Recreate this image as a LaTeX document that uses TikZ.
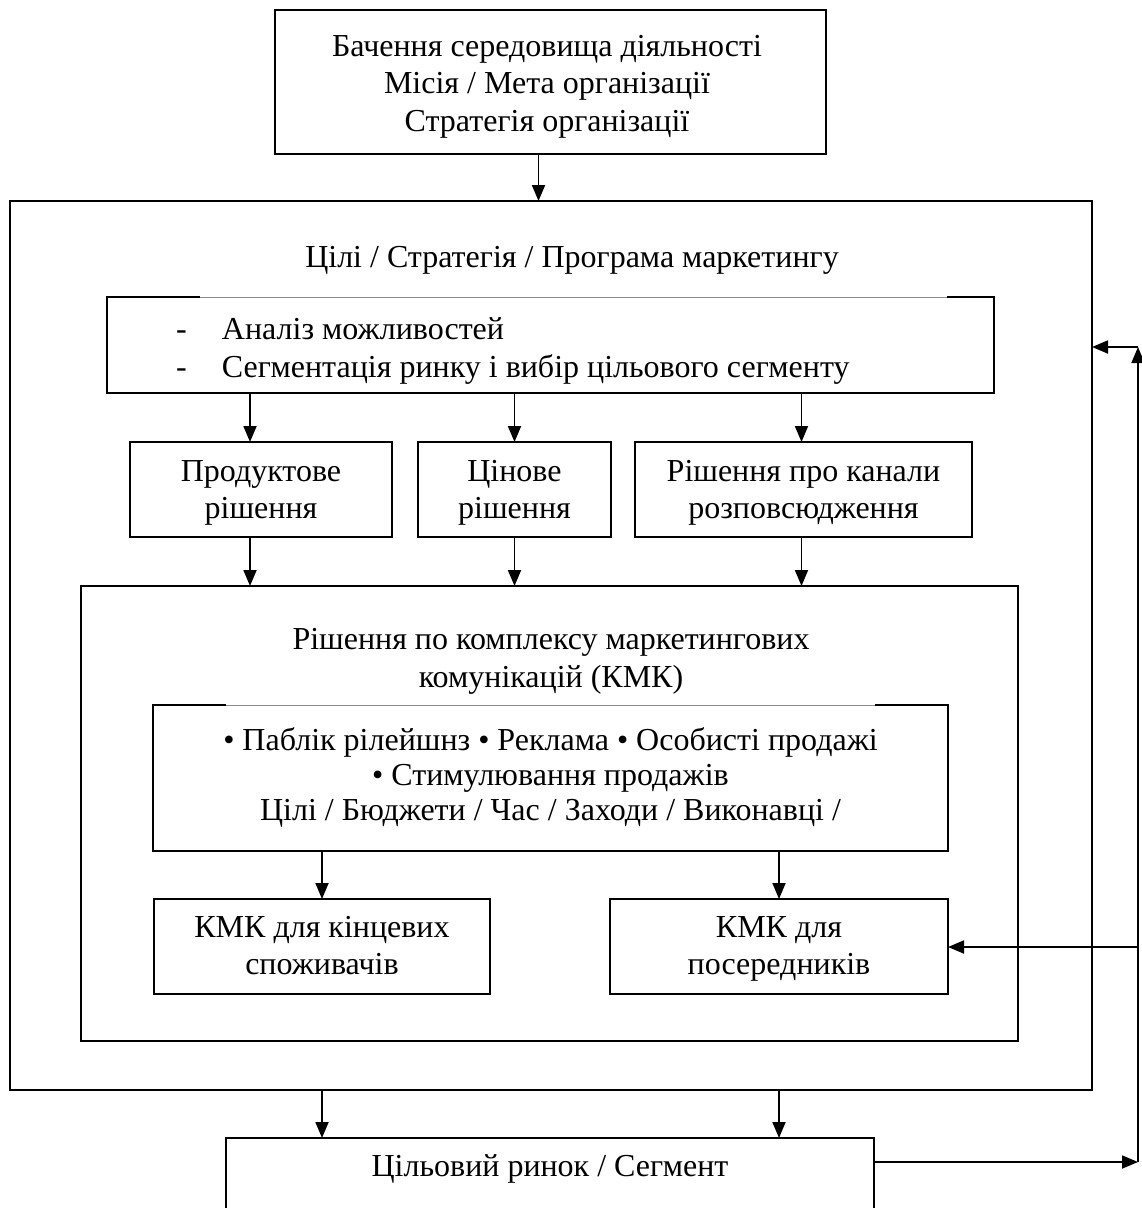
\documentclass[tikz,border=0pt]{standalone}
\usepackage{fontspec}
\setmainfont{Liberation Serif}
\usetikzlibrary{arrows.meta,calc}
\begin{document}
\begin{tikzpicture}[x=1pt,y=-1pt,
  every node/.style={inner sep=0pt, outer sep=0pt, font=\fontsize{32}{37.5}\selectfont},
  box/.style={draw, line width=1.8pt, align=center},
  open/.style={align=center},
  edge/.style={line width=1.8pt},
  conn/.style={line width=1.8pt, -{Triangle[length=16pt,width=13pt]}},
  thinline/.style={draw=black!45, line width=1pt}]
\useasboundingbox (0,0) rectangle (1142,1208);
\fill[white] (0,0) rectangle (1142,1208);

% top box
\node[box, minimum width=551pt, minimum height=144pt] (vision) at (550.5,82) {};
\node[open] (visiontxt) at (547,86)
  {\strut Бачення середовища діяльності\\\strut Місія / Мета організації\\\strut Стратегія організації};

% outer box
\node[box, minimum width=1082pt, minimum height=889pt] (outer) at (551,645.5) {};
\node (title) at (572,260) {Цілі / Стратегія / Програма маркетингу};

% analysis box
\node[minimum width=887pt, minimum height=96pt] (analiz) at (550.5,345) {};
\draw[edge] ($(analiz.north west)+(93,0)$) -- (analiz.north west) -- (analiz.south west)
  -- (analiz.south east) -- (analiz.north east) -- ++(-47,0);
\draw[thinline] ($(analiz.north west)+(93,0)$) -- ($(analiz.north east)+(-47,0)$);
\node[anchor=west, align=left] (analiztxt) at (176,351)
  {\strut\makebox[46pt][l]{-}Аналіз можливостей\\\strut\makebox[46pt][l]{-}Сегментація ринку і вибір цільового сегменту};

% decision boxes
\node[box, minimum width=262pt, minimum height=95pt] (prod) at (261,489.5) {};
\node[open] (prodtxt) at (prod.center) [yshift=-3pt] {\strut Продуктове\\\strut рішення};
\node[box, minimum width=193pt, minimum height=95pt] (price) at (514.5,489.5) {};
\node[open] (pricetxt) at (price.center) [yshift=-3pt] {\strut Цінове\\\strut рішення};
\node[box, minimum width=337pt, minimum height=95pt] (chan) at (803.5,489.5) {};
\node[open] (chantxt) at (chan.center) [yshift=-3pt] {\strut Рішення про канали\\\strut розповсюдження};

% KMK box
\node[box, minimum width=937pt, minimum height=455pt] (kmk) at (549.5,813.5) {};
\node[open] (kmktitle) at (551,661) {\strut Рішення по комплексу маркетингових\\\strut комунікацій (КМК)};

% tools box
\node[minimum width=795pt, minimum height=146pt] (tools) at (550.5,778) {};
\node[open, font=\fontsize{32}{35}\selectfont] (toolstxt) at (550.5,778)
  {\strut • Паблік рілейшнз • Реклама • Особисті продажі\\\strut • Стимулювання продажів\\\strut Цілі / Бюджети / Час / Заходи / Виконавці /};
\draw[edge] ($(tools.north west)+(73,0)$) -- (tools.north west) -- (tools.south west)
  -- (tools.south east) -- (tools.north east) -- ++(-73,0);
\draw[thinline] ($(tools.north west)+(73,0)$) -- ($(tools.north east)+(-73,0)$);

% KMK sub boxes
\node[box, minimum width=336pt, minimum height=95pt] (cons) at (322,946.5) {};
\node[open] (constxt) at (cons.center) [yshift=-2pt] {\strut КМК для кінцевих\\\strut споживачів};
\node[box, minimum width=338pt, minimum height=95pt] (inter) at (779,946.5) {};
\node[open] (intertxt) at (inter.center) [yshift=-2pt] {\strut КМК для\\\strut посередників};

% target market
\node[box, minimum width=648pt, minimum height=90pt, anchor=north] (target) at (550,1138) {};
\node (targettxt) at (550,1169) {Цільовий ринок / Сегмент};

% connectors
\draw[conn] ([xshift=-12pt]vision.south) -- ([xshift=-12pt]vision.south |- outer.north);
\draw[conn] ([xshift=-11pt]prod.north |- analiz.south) -- ([xshift=-11pt]prod.north);
\draw[conn] (price.north |- analiz.south) -- (price.north);
\draw[conn] ([xshift=-2pt]chan.north |- analiz.south) -- ([xshift=-2pt]chan.north);
\draw[conn] ([xshift=-11pt]prod.south) -- ([xshift=-11pt]prod.south |- kmk.north);
\draw[conn] (price.south) -- (price.south |- kmk.north);
\draw[conn] ([xshift=-2pt]chan.south) -- ([xshift=-2pt]chan.south |- kmk.north);
\draw[conn] (tools.south -| cons.north) -- (cons.north);
\draw[conn] (tools.south -| inter.north) -- (inter.north);
\draw[conn] (outer.south -| cons.north) -- (cons.north |- target.north);
\draw[conn] (outer.south -| inter.north) -- (inter.north |- target.north);

\coordinate (c1) at (1138,1162);
\coordinate (c2) at (1138,347);
\coordinate (c3) at (1138,947);
\draw[conn] (c1 -| target.east) -- (c1);
\draw[conn] (c1) -- (c2);
\draw[conn] (c2) -- (c2 -| outer.east);
\draw[conn] (c3) -- (c3 -| inter.east);
\end{tikzpicture}
\end{document}
